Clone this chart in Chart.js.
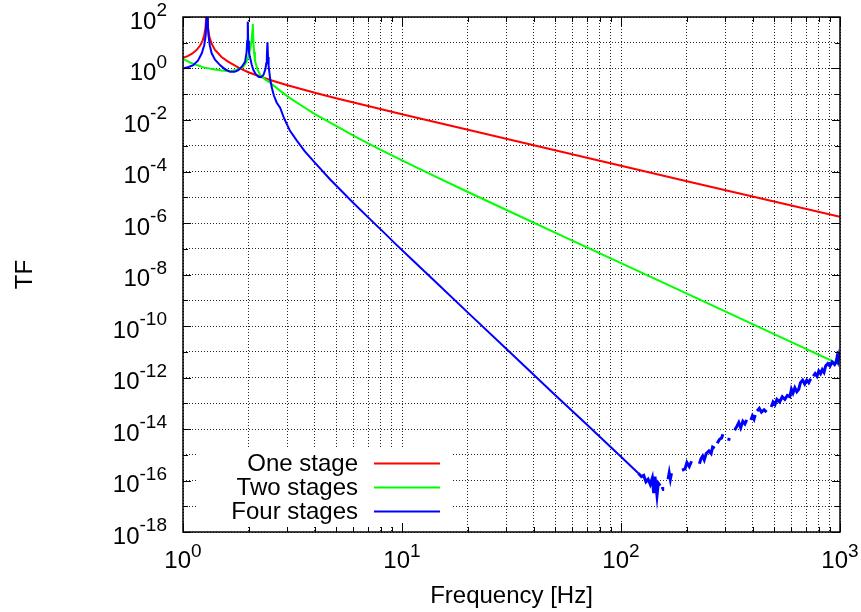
<!DOCTYPE html>
<html>
<head>
<meta charset="utf-8">
<script src="https://cdn.jsdelivr.net/npm/chart.js@4.4.1/dist/chart.umd.min.js"></script>
<style>
  body { margin: 0; background: #fff; }
  #wrap { width: 861px; height: 612px; }
</style>
</head>
<body>
<div id="wrap"><canvas id="tfChart" width="861" height="612"></canvas></div>
<script>
// values (frequency in Hz, transfer function)
const freqOne = [1, 1.05, 1.1, 1.15, 1.2, 1.23, 1.25, 1.265, 1.275, 1.283, 1.29, 1.3, 1.32, 1.35, 1.4, 1.5, 1.6, 1.8, 2, 2.5, 3, 4, 5, 7, 10, 20, 50, 100, 200, 500, 1000];
const tfOne = [2.6, 3.03, 3.77, 5.09, 7.99, 12.4, 19.7, 36, 80, 300, 91, 37.5, 17.1, 9.34, 5.24, 2.8, 1.9, 1.05, 0.70, 0.358, 0.224, 0.115, 0.0705, 0.0348, 0.0168, 4.15e-3, 6.65e-4, 1.66e-4, 4.15e-5, 6.8e-6, 1.75e-6];

const freqTwo = [1, 1.08, 1.155, 1.25, 1.375, 1.5, 1.64, 1.75, 1.887, 1.95, 1.987, 2.03, 2.06, 2.075, 2.083, 2.095, 2.11, 2.13, 2.18, 2.25, 2.38, 2.5, 2.77, 3.08, 3.5, 4, 5, 6, 7, 8, 10, 14, 20, 30, 50, 100, 200, 500, 1000];
const tfTwo = [2.35, 1.7, 1.36, 1.08, 0.93, 0.83, 0.79, 0.87, 1.17, 1.8, 2.9, 6.0, 14, 30, 54, 12, 4.5, 2.1, 1.0, 0.56, 0.37, 0.28, 0.138, 0.071, 0.035, 0.017, 5.9e-3, 2.46e-3, 1.23e-3, 6.9e-4, 2.7e-4, 6.8e-5, 1.6e-5, 3.2e-6, 4.2e-7, 2.75e-8, 1.8e-9, 4.85e-11, 3.2e-12];

const freqFour = [1, 1.06, 1.114, 1.17, 1.218, 1.25, 1.27, 1.288, 1.305, 1.325, 1.352, 1.4, 1.476, 1.55, 1.64, 1.72, 1.79, 1.86, 1.92, 1.95, 1.965, 1.976, 1.985, 2.0, 2.02, 2.06, 2.096, 2.15, 2.21, 2.27, 2.33, 2.38, 2.40, 2.415, 2.43, 2.445, 2.46, 2.48, 2.5, 2.54, 2.6, 2.68, 2.776, 2.9, 3.08, 3.31, 3.6, 4, 4.7, 5.31, 6, 7.16, 8.53, 9.31, 11.1, 13.9, 20, 30, 50, 70, 100,
  120, 124, 127, 130, 133, 136, 139, 141, 143, 146, 148, 151, 152,
  154, 155, 160,
  164, 166, 168, 170, 180,
  190, 196, 200, 205, 210, 220,
  228, 232, 236, 240, 245, 252, 258, 262, 268, 272,
  275, 282, 288, 292, 300,
  310, 312, 320,
  330, 338, 345, 352, 360, 368, 375, 385,
  392, 398, 405, 410, 414,
  418, 428, 438, 450, 462, 475,
  485, 495, 505, 515, 530, 545, 560, 575, 590, 600, 610, 622, 635, 648, 660, 675, 690, 705, 720, 735, 745,
  755, 770, 785, 800, 815, 830, 845, 860, 880, 900, 920, 945, 960, 970, 980, 990, 1000];
const tfFour = [1.0, 1.15, 1.36, 2.0, 3.9, 8, 20, 300, 22, 8, 3.9, 2.2, 1.36, 0.95, 0.75, 0.74, 0.87, 1.2, 1.8, 4.0, 12, 66, 12, 4.5, 2.9, 1.4, 0.87, 0.6, 0.48, 0.46, 0.56, 0.95, 1.6, 3.2, 10.5, 2.8, 1.26, 0.71, 0.4, 0.19, 0.089, 0.047, 0.030, 0.0112, 3.8e-3, 1.58e-3, 6.0e-4, 2.2e-4, 4.9e-5, 1.7e-5, 6.0e-6, 1.38e-6, 3.3e-7, 1.58e-7, 3.8e-8, 6.2e-9, 3.3e-10, 1.27e-11, 2.1e-13, 1.45e-14, 8.3e-16,
  1.9e-16, 1.41e-16, 1.58e-16, 8.9e-17, 1.12e-16, 7.1e-17, 1.26e-16, 3.2e-17, 1.41e-16, 2.6e-17, 7.9e-17, 6.3e-17, null,
  4.5e-17, 5.6e-17, null,
  1.12e-16, 2.0e-16, 1.12e-16, 1.9e-16, null,
  2.5e-16, 2.8e-16, 5.0e-16, 3.5e-16, 5.6e-16, null,
  4.5e-16, 7.1e-16, 8.9e-16, 6.3e-16, 1.12e-15, 1.41e-15, 1.12e-15, 2.0e-15, 1.78e-15, null,
  2.8e-15, 4.0e-15, 4.5e-15, 6.3e-15, null,
  3.5e-15, 4.5e-15, null,
  8.9e-15, 1.26e-14, 1.78e-14, 1.12e-14, 2.0e-14, 1.58e-14, 2.24e-14, null,
  2.24e-14, 3.2e-14, 2.4e-14, 3.5e-14, null,
  5.0e-14, 6.3e-14, 4.5e-14, 5.6e-14, 4.5e-14, null,
  7.1e-14, 1.12e-13, 8.9e-14, 1.41e-13, 1.12e-13, 1.78e-13, 1.41e-13, 2.0e-13, 1.78e-13, 3.5e-13, 2.5e-13, 4.0e-13, 2.8e-13, 3.5e-13, 6.3e-13, 7.9e-13, 5.6e-13, 7.9e-13, 6.3e-13, 8.9e-13, null,
  1.12e-12, 1.41e-12, 1.12e-12, 1.78e-12, 1.41e-12, 2.0e-12, 1.58e-12, 2.8e-12, 3.5e-12, 2.8e-12, 4.0e-12, 3.2e-12, 4.0e-12, 6.3e-12, 4.5e-12, 7.1e-12, 5.0e-12];

const seriesNames = ['One stage', 'Two stages', 'Four stages'];
const seriesColors = ['#ff0000', '#00ff00', '#0000ff'];

const xTicks = [1, 2, 3, 4, 5, 6, 7, 8, 9, 10, 20, 30, 40, 50, 60, 70, 80, 90, 100, 200, 300, 400, 500, 600, 700, 800, 900, 1000];
const yTicks = [1e-18, 1e-17, 1e-16, 1e-15, 1e-14, 1e-13, 1e-12, 1e-11, 1e-10, 1e-9, 1e-8, 1e-7, 1e-6, 1e-5, 1e-4, 1e-3, 1e-2, 1e-1, 1, 10, 100];
const xLabelPowers = [0, 1, 2, 3];
const yLabelPowers = [2, 0, -2, -4, -6, -8, -10, -12, -14, -16, -18];

const FONT = '"Liberation Sans", Arial, Helvetica, sans-serif';

function toPoints(xs, ys) {
  return xs.map((f, i) => ({ x: f, y: ys[i] }));
}

// draws "10" with a raised exponent; anchor is 'right' or 'center'
function drawPower(ctx, exp, x, baseY, supY, anchor) {
  ctx.font = '24px ' + FONT;
  const wBase = ctx.measureText('10').width;
  ctx.font = '19px ' + FONT;
  const wExp = ctx.measureText(String(exp)).width;
  let left = anchor === 'right' ? x - wBase - wExp : x - (wBase + wExp) / 2;
  ctx.textAlign = 'left';
  ctx.textBaseline = 'alphabetic';
  ctx.font = '24px ' + FONT;
  ctx.fillText('10', left, baseY);
  ctx.font = '19px ' + FONT;
  ctx.fillText(String(exp), left + wBase, supY);
}

const keyBox = {
  id: 'keyBox',
  beforeDatasetsDraw(chart) {
    const ctx = chart.ctx;
    ctx.save();
    ctx.fillStyle = '#fff';
    ctx.fillRect(196, 449, 256, 76);
    ctx.restore();
  }
};

const gnuplotFrame = {
  id: 'gnuplotFrame',
  afterDatasetsDraw(chart) {
    const ctx = chart.ctx;
    const a = chart.chartArea;
    const xs = chart.scales.x, ys = chart.scales.y;
    ctx.save();

    // ticks, mirrored on all four sides
    ctx.strokeStyle = '#000';
    ctx.lineWidth = 1;
    ctx.beginPath();
    xTicks.forEach(v => {
      const px = Math.round(xs.getPixelForValue(v)) + 0.5;
      const len = xLabelPowers.includes(Math.round(Math.log10(v) * 1000) / 1000) ? 9 : 5;
      ctx.moveTo(px, a.bottom); ctx.lineTo(px, a.bottom - len);
      ctx.moveTo(px, a.top); ctx.lineTo(px, a.top + len);
    });
    yTicks.forEach(v => {
      const py = Math.round(ys.getPixelForValue(v)) + 0.5;
      const len = yLabelPowers.includes(Math.round(Math.log10(v))) ? 8 : 5;
      ctx.moveTo(a.left, py); ctx.lineTo(a.left + len, py);
      ctx.moveTo(a.right, py); ctx.lineTo(a.right - len, py);
    });
    ctx.stroke();

    // border
    ctx.lineWidth = 1.5;
    ctx.strokeRect(a.left, a.top, a.right - a.left, a.bottom - a.top);

    // tick labels
    ctx.fillStyle = '#000';
    yLabelPowers.forEach(p => {
      const py = ys.getPixelForValue(Math.pow(10, p));
      drawPower(ctx, p, 167, py + 11.5, py - 1, 'right');
    });
    xLabelPowers.forEach(p => {
      const px = xs.getPixelForValue(Math.pow(10, p));
      drawPower(ctx, p, px, 568, 556.5, 'center');
    });

    // axis titles
    ctx.font = '24px ' + FONT;
    ctx.textAlign = 'center';
    ctx.textBaseline = 'alphabetic';
    ctx.fillText('Frequency [Hz]', (a.left + a.right) / 2, 603);
    ctx.save();
    ctx.translate(31.5, (a.top + a.bottom) / 2);
    ctx.rotate(-Math.PI / 2);
    ctx.fillText('TF', 0, 0);
    ctx.restore();

    // key
    const rows = [463.5, 487.5, 511.5];
    seriesNames.forEach((name, i) => {
      ctx.font = '24px ' + FONT;
      ctx.textAlign = 'right';
      ctx.textBaseline = 'middle';
      ctx.fillStyle = '#000';
      ctx.fillText(name, 358, rows[i] + 1);
      ctx.strokeStyle = seriesColors[i];
      ctx.lineWidth = 2;
      ctx.beginPath();
      ctx.moveTo(374, rows[i]);
      ctx.lineTo(440, rows[i]);
      ctx.stroke();
    });

    ctx.restore();
  }
};

const ctx = document.getElementById('tfChart').getContext('2d');
new Chart(ctx, {
  type: 'line',
  data: {
    datasets: [
      { label: seriesNames[0], data: toPoints(freqOne, tfOne), borderColor: seriesColors[0], order: 3 },
      { label: seriesNames[1], data: toPoints(freqTwo, tfTwo), borderColor: seriesColors[1], order: 2 },
      {
        label: seriesNames[2], data: toPoints(freqFour, tfFour), borderColor: seriesColors[2], order: 1,
        // the noisy tail reads as a heavier, blocky trace
        segment: { borderWidth: c => (c.p0.parsed.x >= 118 ? 3 : undefined) }
      }
    ]
  },
  options: {
    responsive: false,
    animation: false,
    spanGaps: false,
    layout: { padding: { top: 17, right: 21, bottom: 0, left: 0 } },
    elements: {
      line: { borderWidth: 2, tension: 0, fill: false },
      point: { radius: 0, hoverRadius: 0 }
    },
    plugins: {
      legend: { display: false },
      tooltip: { enabled: false }
    },
    scales: {
      x: {
        type: 'logarithmic',
        min: 1,
        max: 1000,
        afterBuildTicks: s => { s.ticks = xTicks.map(v => ({ value: v })); },
        afterFit: s => { s.height = 80; },
        ticks: { display: false, autoSkip: false },
        grid: { color: 'rgba(0,0,0,0.85)', lineWidth: 1, drawTicks: false },
        border: { display: false, dash: [1, 2] }
      },
      y: {
        type: 'logarithmic',
        min: 1e-18,
        max: 100,
        afterBuildTicks: s => { s.ticks = yTicks.map(v => ({ value: v })); },
        afterFit: s => { s.width = 183; },
        ticks: { display: false, autoSkip: false },
        grid: { color: 'rgba(0,0,0,0.85)', lineWidth: 1, drawTicks: false },
        border: { display: false, dash: [1, 2] }
      }
    }
  },
  plugins: [keyBox, gnuplotFrame]
});
</script>
</body>
</html>
